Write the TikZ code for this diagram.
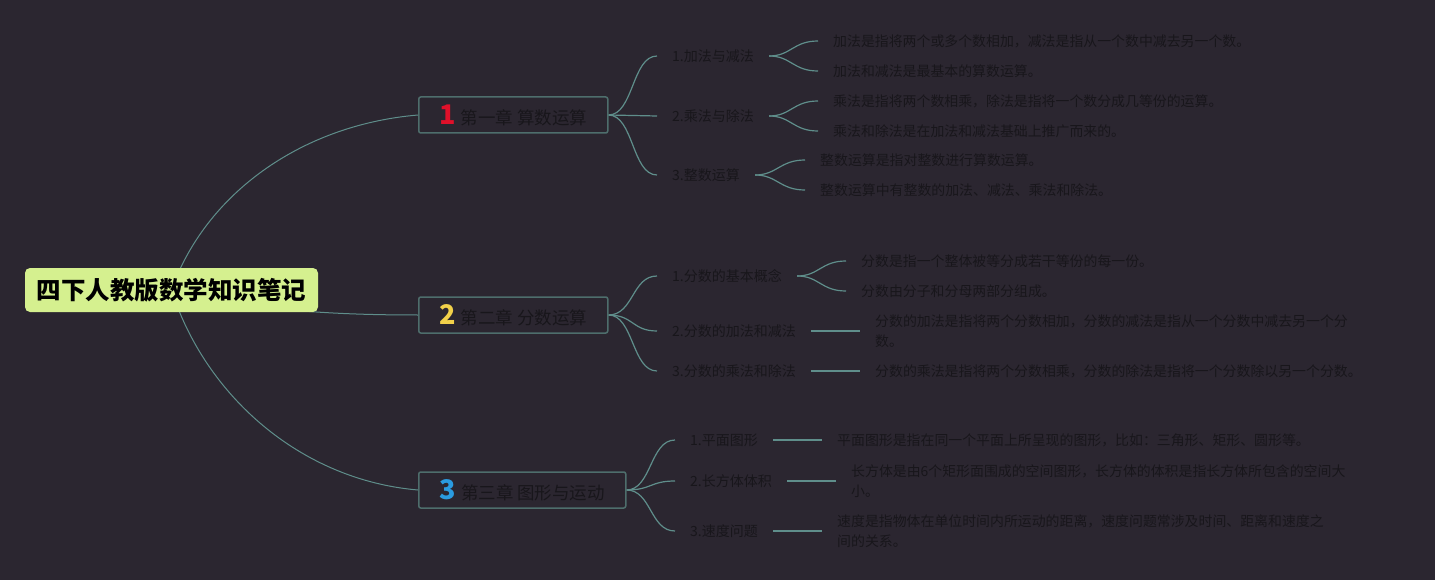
\documentclass[tikz,border=0pt]{standalone}
\usepackage{fontspec}
\setmainfont{Noto Sans CJK SC}
\definecolor{bgc}{HTML}{2B2630}
\definecolor{txt}{HTML}{18161B}
\definecolor{lnc}{HTML}{5F8E8B}
\definecolor{boxc}{HTML}{4E6E6C}
\definecolor{rootc}{HTML}{D5F08F}
\definecolor{nred}{HTML}{E0102A}
\definecolor{nyel}{HTML}{F2D14A}
\definecolor{nblu}{HTML}{2A9BE0}
\pgfdeclarelayer{bg}
\pgfdeclarelayer{edges}
\pgfsetlayers{bg,edges,main}
\newcommand{\chnum}[2]{\textcolor{#1}{\fontsize{27}{28}\selectfont\bfseries #2}}
\tikzset{
  rootbox/.style={fill=rootc, rounded corners=5pt, minimum width=293pt, minimum height=44pt, inner sep=0pt, text=black, font=\fontsize{24.5}{28}\selectfont\bfseries},
  chapbox/.style={draw=boxc, line width=1.5pt, rounded corners=2pt, minimum height=36pt, inner sep=0pt, anchor=west, text=txt, font=\fontsize{17.5}{19}\selectfont},
  lvtwo/.style={anchor=west, inner xsep=15pt, inner ysep=2pt, text=txt, font=\fontsize{14}{16}\selectfont},
  leaf/.style={anchor=west, inner xsep=15pt, inner ysep=2pt, align=left, text=txt, font=\fontsize{13.9}{20.5}\selectfont},
  conn/.style={draw=lnc, line width=1.2pt},
  rootconn/.style={draw=lnc, line width=1pt},
}
\begin{document}
\begin{tikzpicture}[x=1pt,y=-1pt]
\begin{pgfonlayer}{bg}
\fill[bgc] (0,0) rectangle (1435,580);
\end{pgfonlayer}
\useasboundingbox (0,0) rectangle (1435,580);

% root
\node[rootbox] (root) at (171.5,290) {四下人教版数学知识笔记};

% chapters
\node[chapbox, minimum width=189pt] (c1) at (418,115) {\chnum{nred}{1}\hspace{5pt}第一章 算数运算};
\node[chapbox, minimum width=189pt] (c2) at (418,315) {\chnum{nyel}{2}\hspace{5pt}第二章 分数运算};
\node[chapbox, minimum width=207pt] (c3) at (418,490) {\chnum{nblu}{3}\hspace{5pt}第三章 图形与运动};

% chapter 1
\node[lvtwo] (a1) at (657,56) {1.加法与减法};
\node[lvtwo] (a2) at (657,116) {2.乘法与除法};
\node[lvtwo] (a3) at (657,175) {3.整数运算};
\node[leaf] (a11) at (818,41) {加法是指将两个或多个数相加，减法是指从一个数中减去另一个数。};
\node[leaf] (a12) at (818,71) {加法和减法是最基本的算数运算。};
\node[leaf] (a21) at (818,101) {乘法是指将两个数相乘，除法是指将一个数分成几等份的运算。};
\node[leaf] (a22) at (818,131) {乘法和除法是在加法和减法基础上推广而来的。};
\node[leaf] (a31) at (805,160) {整数运算是指对整数进行算数运算。};
\node[leaf] (a32) at (805,190) {整数运算中有整数的加法、减法、乘法和除法。};

% chapter 2
\node[lvtwo] (b1) at (657,276) {1.分数的基本概念};
\node[lvtwo] (b2) at (657,331) {2.分数的加法和减法};
\node[lvtwo] (b3) at (657,371) {3.分数的乘法和除法};
\node[leaf] (b11) at (846,261) {分数是指一个整体被等分成若干等份的每一份。};
\node[leaf] (b12) at (846,291) {分数由分子和分母两部分组成。};
\node[leaf] (b21) at (860,331) {分数的加法是指将两个分数相加，分数的减法是指从一个分数中减去另一个分\\数。};
\node[leaf] (b31) at (860,371) {分数的乘法是指将两个分数相乘，分数的除法是指将一个分数除以另一个分数。};

% chapter 3
\node[lvtwo] (d1) at (675,440) {1.平面图形};
\node[lvtwo] (d2) at (675,481) {2.长方体体积};
\node[lvtwo] (d3) at (675,531) {3.速度问题};
\node[leaf] (d11) at (822,440) {平面图形是指在同一个平面上所呈现的图形，比如：三角形、矩形、圆形等。};
\node[leaf] (d21) at (836,481) {长方体是由6个矩形面围成的空间图形，长方体的体积是指长方体所包含的空间大\\小。};
\node[leaf] (d31) at (822,531) {速度是指物体在单位时间内所运动的距离，速度问题常涉及时间、距离和速度之\\间的关系。};

\begin{pgfonlayer}{edges}
% root to chapters
\draw[rootconn] (root.center) .. controls (205,195) and (300,125) .. (c1.west);
\draw[rootconn] (root.center) .. controls (250,310) and (330,315) .. (c2.west);
\draw[rootconn] (root.center) .. controls (205,395) and (300,480) .. (c3.west);
% chapters to level 2
\foreach \c/\l in {c1/a1,c1/a2,c1/a3,c2/b1,c2/b2,c2/b3,c3/d1,c3/d2,c3/d3}
  \draw[conn] (\c.east) .. controls +(25,0) and +(-25,0) .. (\l.west);
% level 2 to leaves
\foreach \l/\f in {a1/a11,a1/a12,a2/a21,a2/a22,a3/a31,a3/a32,b1/b11,b1/b12}
  \draw[conn] (\l.east) .. controls +(22,0) and +(-25,0) .. (\f.west);
\foreach \l/\f in {b2/b21,b3/b31,d1/d11,d2/d21,d3/d31}
  \draw[conn] (\l.east) -- (\f.west);
\end{pgfonlayer}
\end{tikzpicture}
\end{document}
